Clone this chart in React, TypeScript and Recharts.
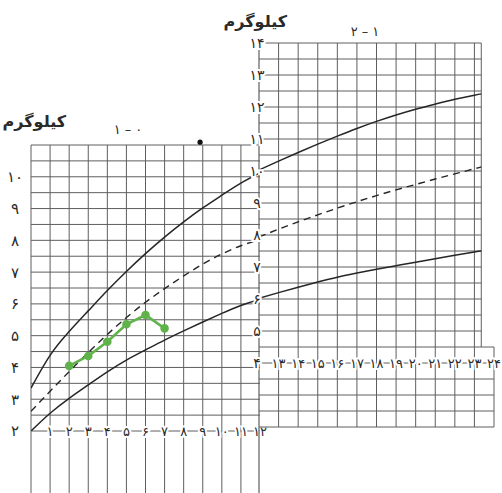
import React from "react";
import {
  ComposedChart,
  Line,
  XAxis,
  YAxis,
  ReferenceLine,
  ReferenceDot,
} from "recharts";

// age 0-1 year (months) and weight reference curves, kg
const MONTHS_0_1 = [0, 1, 2, 3, 4, 5, 6, 7, 8, 9, 10, 11, 12];
const UPPER_0_1 = [3.35, 4.38, 5.13, 5.78, 6.42, 7.02, 7.58, 8.1, 8.58, 9.02, 9.42, 9.8, 10.12];
const MEDIAN_0_1 = [2.62, 3.25, 3.87, 4.47, 5.04, 5.57, 6.05, 6.48, 6.88, 7.25, 7.57, 7.83, 8.03];
const LOWER_0_1 = [2.0, 2.56, 3.03, 3.45, 3.86, 4.23, 4.55, 4.86, 5.15, 5.43, 5.7, 5.95, 6.15];

// the child's measurements (green)
const CHILD_MONTHS = [2, 3, 4, 5, 6, 7];
const CHILD_WEIGHT = [4.05, 4.36, 4.81, 5.36, 5.65, 5.23];

// age 1-2 years (months), the printed grid stops a bit before month 24
const MONTHS_1_2 = [12, 13, 14, 15, 16, 17, 18, 19, 20, 21, 22, 23, 23.35];
const UPPER_1_2 = [10.03, 10.31, 10.58, 10.84, 11.09, 11.33, 11.55, 11.75, 11.93, 12.09, 12.24, 12.37, 12.41];
const MEDIAN_1_2 = [7.94, 8.18, 8.41, 8.63, 8.84, 9.04, 9.23, 9.41, 9.58, 9.75, 9.91, 10.07, 10.13];
const LOWER_1_2 = [6.02, 6.2, 6.37, 6.53, 6.68, 6.81, 6.93, 7.04, 7.15, 7.26, 7.37, 7.47, 7.5];

// tick labels
const LEFT_X_TICKS = [1, 2, 3, 4, 5, 6, 7, 8, 9, 10, 11, 12];
const LEFT_Y_TICKS = [2, 3, 4, 5, 6, 7, 8, 9, 10];
const RIGHT_X_TICKS = [13, 14, 15, 16, 17, 18, 19, 20, 21, 22, 23, 24];
const RIGHT_Y_TICKS = [4, 5, 6, 7, 8, 9, 10, 11, 12, 13, 14];

// grid lines
const LEFT_H_GRID = [2, 2.5, 3, 3.5, 4, 4.5, 5, 5.5, 6, 6.5, 7, 7.5, 8, 8.5, 9, 9.5, 10, 10.5, 11];
const LEFT_V_GRID = [0, 1, 2, 3, 4, 5, 6, 7, 8, 9, 10, 11];
const RIGHT_H_GRID_TOP = [5, 5.5, 6, 6.5, 7, 7.5, 8, 8.5, 9, 9.5, 10, 10.5, 11, 11.5, 12, 12.5, 13, 13.5, 14];
const RIGHT_H_GRID_LOW = [2, 2.5, 3, 3.5, 4, 4.5];
const RIGHT_V_GRID = [13, 14, 15, 16, 17, 18, 19, 20, 21, 22, 23];

const INK_SPOT = { month: 8.86, kg: 11.09 };

const W = 502;
const H = 493;
const AXIS_W = 30; // room the y axes take inside the left margin
const AXIS_H = 20; // room the x axes take inside the bottom margin
const GRID = "#5e5e5e";
const CURVE = "#262626";
const GREEN = "#5fb34a";
const INK = "#2a2a2a";
const FONT = "DejaVu Sans, sans-serif";

const fa = (n: number) =>
  String(n).replace(/[0-9]/g, (d) => "۰۱۲۳۴۵۶۷۸۹"[Number(d)]);

const HaloText = ({ x, y, text, size }: { x: number; y: number; text: string; size: number }) => (
  <text
    x={x}
    y={y}
    dy="0.36em"
    textAnchor="middle"
    fontSize={size}
    fontFamily={FONT}
    fill={INK}
    stroke="#fff"
    strokeWidth={4}
    paintOrder="stroke"
  >
    {text}
  </text>
);

const leftData = MONTHS_0_1.map((m, i) => ({
  month: m,
  upper: UPPER_0_1[i],
  median: MEDIAN_0_1[i],
  lower: LOWER_0_1[i],
}));
const childData = CHILD_MONTHS.map((m, i) => ({ month: m, weight: CHILD_WEIGHT[i] }));
const rightData = MONTHS_1_2.map((m, i) => ({
  month: m,
  upper: UPPER_1_2[i],
  median: MEDIAN_1_2[i],
  lower: LOWER_1_2[i],
}));

const seg = (x1: number, y1: number, x2: number, y2: number) => [
  { x: x1, y: y1 },
  { x: x2, y: y2 },
];

export default function App() {
  return (
    <div
      style={{
        position: "fixed",
        left: 0,
        top: 0,
        width: W,
        height: H,
        background: "#fff",
        overflow: "hidden",
      }}
    >
      {/* 0-1 year panel */}
      <div style={{ position: "absolute", left: 0, top: 0 }}>
        <ComposedChart
          width={W}
          height={H}
          data={leftData}
          margin={{ top: 145, right: 242, bottom: 62 - AXIS_H, left: 31 - AXIS_W }}
        >
          <XAxis
            dataKey="month"
            type="number"
            domain={[0, 12]}
            ticks={LEFT_X_TICKS}
            interval={0}
            height={AXIS_H}
            axisLine={false}
            tickLine={false}
            tickSize={0}
            tickMargin={0}
            allowDataOverflow
            tick={(p: any) => <HaloText x={p.x} y={p.y} text={fa(p.payload.value)} size={13} />}
          />
          <YAxis
            type="number"
            domain={[2, 11]}
            ticks={LEFT_Y_TICKS}
            interval={0}
            width={AXIS_W}
            axisLine={false}
            tickLine={false}
            tickSize={0}
            tickMargin={0}
            allowDataOverflow
            tick={(p: any) => <HaloText x={p.x - 16} y={p.y} text={fa(p.payload.value)} size={15} />}
          />
          {LEFT_H_GRID.map((v) => (
            <ReferenceLine key={`lh${v}`} segment={seg(0, v, 12, v)} stroke={GRID} strokeWidth={1} ifOverflow="visible" />
          ))}
          {LEFT_V_GRID.map((m) => (
            <ReferenceLine key={`lv${m}`} segment={seg(m, 11, m, 0.02)} stroke={GRID} strokeWidth={1} ifOverflow="visible" />
          ))}
          <ReferenceDot x={INK_SPOT.month} y={INK_SPOT.kg} r={2.6} fill="#111" stroke="none" ifOverflow="visible" />
          <Line dataKey="upper" type="natural" stroke={CURVE} strokeWidth={1.5} dot={false} isAnimationActive={false} />
          <Line dataKey="median" type="natural" stroke={CURVE} strokeWidth={1.4} strokeDasharray="7 5" dot={false} isAnimationActive={false} />
          <Line dataKey="lower" type="natural" stroke={CURVE} strokeWidth={1.5} dot={false} isAnimationActive={false} />
          <Line
            data={childData}
            dataKey="weight"
            type="linear"
            stroke={GREEN}
            strokeWidth={2.6}
            dot={{ r: 3, fill: GREEN, stroke: GREEN }}
            isAnimationActive={false}
          />
        </ComposedChart>
      </div>

      {/* 1-2 year panel */}
      <div style={{ position: "absolute", left: 0, top: 0 }}>
        <ComposedChart
          width={W}
          height={H}
          data={rightData}
          margin={{ top: 43, right: 8, bottom: 130 - AXIS_H, left: 259 - AXIS_W }}
        >
          <XAxis
            dataKey="month"
            type="number"
            domain={[12, 24]}
            ticks={RIGHT_X_TICKS}
            interval={0}
            height={AXIS_H}
            axisLine={false}
            tickLine={false}
            tickSize={0}
            tickMargin={0}
            allowDataOverflow
            tick={(p: any) => <HaloText x={p.x} y={p.y} text={fa(p.payload.value)} size={13} />}
          />
          <YAxis
            type="number"
            domain={[4, 14]}
            ticks={RIGHT_Y_TICKS}
            interval={0}
            width={AXIS_W}
            axisLine={false}
            tickLine={false}
            tickSize={0}
            tickMargin={0}
            allowDataOverflow
            tick={(p: any) => <HaloText x={p.x - 2} y={p.y} text={fa(p.payload.value)} size={14} />}
          />
          {RIGHT_H_GRID_TOP.map((v) => (
            <ReferenceLine key={`rh${v}`} segment={seg(12, v, 23.35, v)} stroke={GRID} strokeWidth={1} ifOverflow="visible" />
          ))}
          {RIGHT_H_GRID_LOW.map((v) => (
            <ReferenceLine key={`rl${v}`} segment={seg(12, v, 24, v)} stroke={GRID} strokeWidth={1} ifOverflow="visible" />
          ))}
          {RIGHT_V_GRID.map((m) => (
            <ReferenceLine key={`rv${m}`} segment={seg(m, 14, m, 2)} stroke={GRID} strokeWidth={1} ifOverflow="visible" />
          ))}
          <ReferenceLine segment={seg(23.35, 14, 23.35, 4.5)} stroke={GRID} strokeWidth={1} ifOverflow="visible" />
          <ReferenceLine segment={seg(24, 4.5, 24, 2)} stroke={GRID} strokeWidth={1} ifOverflow="visible" />
          <ReferenceLine segment={seg(12, 14, 12, -0.2)} stroke={GRID} strokeWidth={1.2} ifOverflow="visible" />
          <Line dataKey="upper" type="natural" stroke={CURVE} strokeWidth={1.5} dot={false} isAnimationActive={false} />
          <Line dataKey="median" type="natural" stroke={CURVE} strokeWidth={1.4} strokeDasharray="7 5" dot={false} isAnimationActive={false} />
          <Line dataKey="lower" type="natural" stroke={CURVE} strokeWidth={1.5} dot={false} isAnimationActive={false} />
        </ComposedChart>
      </div>

      {/* titles */}
      <div dir="rtl" style={{ position: "absolute", left: 4, top: 112, width: 62, textAlign: "center", fontFamily: FONT, fontSize: 16, fontWeight: 600, color: INK }}>
        کیلوگرم
      </div>
      <div style={{ position: "absolute", left: 106, top: 122, width: 44, textAlign: "center", fontFamily: FONT, fontSize: 13, color: INK }}>
        ۱ – ۰
      </div>
      <div dir="rtl" style={{ position: "absolute", left: 225, top: 12, width: 62, textAlign: "center", fontFamily: FONT, fontSize: 16, fontWeight: 600, color: INK }}>
        کیلوگرم
      </div>
      <div style={{ position: "absolute", left: 343, top: 24, width: 44, textAlign: "center", fontFamily: FONT, fontSize: 13, color: INK }}>
        ۲ – ۱
      </div>
    </div>
  );
}
